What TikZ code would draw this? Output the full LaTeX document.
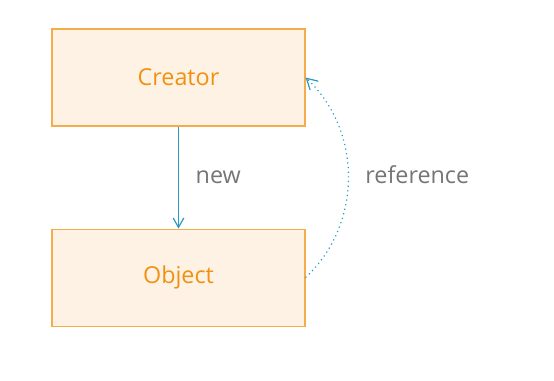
\documentclass[tikz,border=0pt]{standalone}
\usepackage{fontspec}
\setmainfont{Open Sans}
\usepackage{xcolor}
\usepackage{tikz}
\usetikzlibrary{arrows.meta, positioning}

\definecolor{boxfill}{HTML}{FDF2E3}
\definecolor{boxline}{HTML}{F5AC4A}
\definecolor{boxtext}{HTML}{F29111}
\definecolor{linkblue}{HTML}{2A9AC4}
\definecolor{labelgray}{HTML}{757575}

\begin{document}
\begin{tikzpicture}[
        x=0.75pt, y=-0.75pt,
        node distance=76.5pt,
        caixa/.style={rectangle, draw=boxline, line width=0.8pt, fill=boxfill, minimum width=189.75pt, minimum height=72.75pt, font=\fontsize{17.5}{21}\selectfont, text=boxtext},
        seta/.style={linkblue, line width=1.1pt, -{Straight Barb[length=7pt, width=8pt, line width=0.9pt]}},
        ref/.style={linkblue, line width=0.9pt, dash pattern=on 0.9pt off 2.6pt, -{Straight Barb[length=8pt, width=9pt, line width=0.9pt]}},
        rotulo/.style={text=labelgray, font=\fontsize{17.5}{21}\selectfont}
    ]
        \useasboundingbox (0,0) rectangle (554,381);

        % Caixas
        \node[caixa] (creator) at (178.5,77.5) {Creator};
        \node[caixa, below=of creator] (object) {Object};

        % Conexões
        \draw[seta] (creator) -- node[rotulo, right=9pt] {new} (object);
        \draw[ref] (object.east) to[bend right=47] node[rotulo, right=9pt, yshift=2pt] {reference} (creator.east);
    \end{tikzpicture}
\end{document}
